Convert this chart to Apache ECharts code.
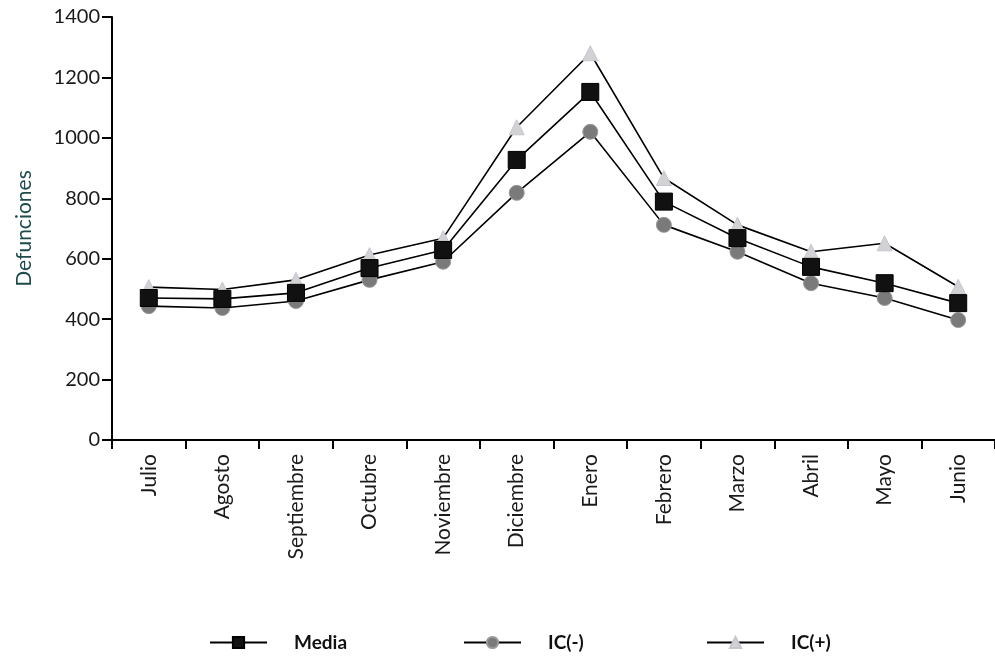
<!DOCTYPE html>
<html><head><meta charset="utf-8">
<script src="https://cdn.jsdelivr.net/npm/echarts@6/dist/echarts.min.js"></script>
<style>html,body{margin:0;padding:0;background:#fff}#c{width:995px;height:657px}</style>
</head><body><div id="c"></div>
<script>
const months = ['Julio','Agosto','Septiembre','Octubre','Noviembre','Diciembre','Enero','Febrero','Marzo','Abril','Mayo','Junio'];
const media = [470, 467, 487, 569, 629, 927, 1152, 789, 668, 573, 519, 453];
const icLow = [443, 437, 460, 530, 590, 818, 1020, 712, 623, 519, 470, 397];
const icHigh = [506, 498, 530, 612, 668, 1035, 1280, 867, 712, 623, 651, 507];
const yTicks = [0, 200, 400, 600, 800, 1000, 1200, 1400];

const chart = echarts.init(document.getElementById('c'));
const font = 'Lato';
const lineStyle = {color: '#000', width: 1.6};
function legend(name, left) {
  return {data: [name], left: left, top: 628, itemWidth: 57, itemHeight: 14,
    textStyle: {fontFamily: font, fontSize: 19, fontWeight: 'bold', color: '#111', padding: [0, 0, 0, 22]}};
}
chart.setOption({
  animation: false,
  backgroundColor: '#fff',
  grid: {left: 112, right: -5, top: 17, bottom: 217},
  legend: [legend('Media', 204), legend('IC(-)', 458), legend('IC(+)', 701)],
  xAxis: {
    type: 'category', data: months, boundaryGap: true,
    axisLine: {lineStyle: {color: '#000', width: 2}},
    axisTick: {show: true, length: 9, lineStyle: {color: '#000', width: 2}},
    axisLabel: {rotate: 90, fontFamily: font, fontSize: 21, color: '#1a1a1a', margin: 14}
  },
  yAxis: {
    type: 'value', min: 0, max: 1400, interval: 200,
    name: 'Defunciones', nameLocation: 'middle', nameGap: 77, nameRotate: 90,
    nameTextStyle: {fontFamily: font, fontSize: 21, color: '#1d4a4a'},
    splitLine: {show: false},
    axisLine: {show: true, lineStyle: {color: '#000', width: 2}},
    axisTick: {show: true, length: 10, lineStyle: {color: '#000', width: 2}},
    axisLabel: {fontFamily: font, fontSize: 20, color: '#1a1a1a', margin: 12,
      formatter: v => yTicks.includes(v) ? String(v) : ''}
  },
  series: [
    {name: 'Media', type: 'line', data: media, symbol: 'rect', symbolSize: 17, z: 4,
      lineStyle: lineStyle, itemStyle: {color: '#111', borderColor: '#000', borderWidth: 1}},
    {name: 'IC(-)', type: 'line', data: icLow, symbol: 'circle', symbolSize: 15, z: 3,
      lineStyle: lineStyle, itemStyle: {color: '#7a7a7a', borderColor: '#999', borderWidth: 1}},
    {name: 'IC(+)', type: 'line', data: icHigh, symbol: 'triangle', symbolSize: 15, z: 2,
      lineStyle: lineStyle, itemStyle: {color: '#d2d2d4', borderColor: '#c6c6d0', borderWidth: 1}}
  ]
});
</script></body></html>
